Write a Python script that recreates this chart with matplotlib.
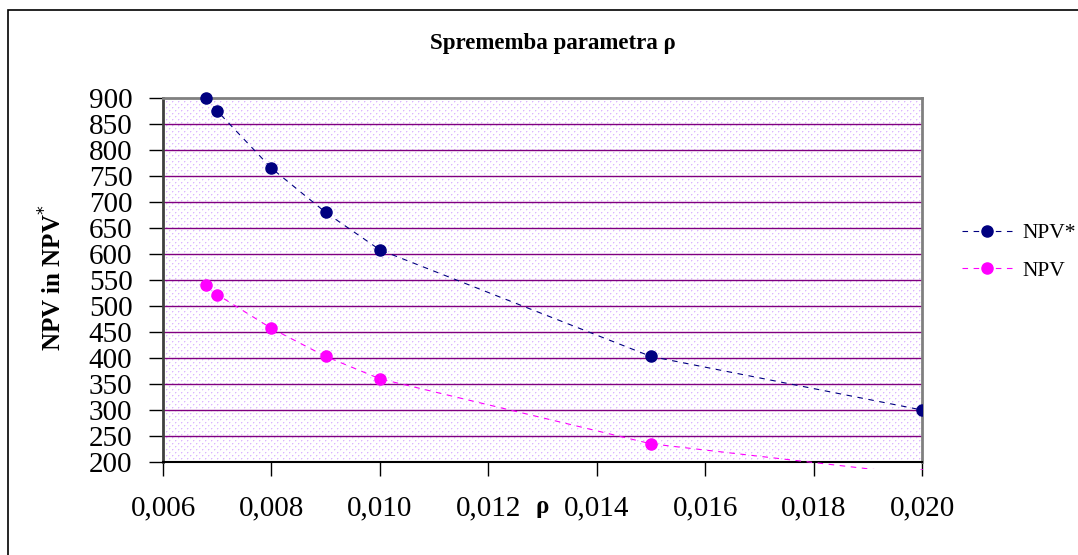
import numpy as np
import matplotlib
matplotlib.use("Agg")
import matplotlib.pyplot as plt
from matplotlib.patches import Rectangle
from matplotlib.transforms import Bbox, TransformedBbox
from matplotlib.ticker import FuncFormatter

# ---- data ----
rho = [0.0068, 0.007, 0.008, 0.009, 0.010, 0.015, 0.020]
npv_star = [900, 875, 765, 680, 608, 403, 300]
npv = [540, 522, 457, 403, 360, 235, 175]
x_ticks = [0.006, 0.008, 0.010, 0.012, 0.014, 0.016, 0.018, 0.020]
y_ticks = list(range(200, 901, 50))

plt.rcParams['font.family'] = ['Liberation Serif', 'DejaVu Serif']

W, H = 1078, 555
fig = plt.figure(figsize=(W / 100, H / 100), dpi=100)

# outer chart frame
fig.patches.append(Rectangle((8 / W, -0.05), 1.1, 1 - 10 / H + 0.05,
                             transform=fig.transFigure, fill=False,
                             edgecolor='black', linewidth=1.2))

left, right, top, bottom = 163, 922, 98, 462
ax = fig.add_axes([left / W, 1 - bottom / H, (right - left) / W, (bottom - top) / H])
ax.set_xlim(0.006, 0.020)
ax.set_ylim(200, 900)

# dotted plot-area fill
pw, ph = right - left, bottom - top
bg = np.ones((ph, pw, 3))
dot = np.array([0.86, 0.72, 1.0])
soft = np.array([0.95, 0.89, 1.0])
yy, xx = np.mgrid[0:ph, 0:pw]
mask_a = ((xx % 6) == 0) & ((yy % 6) == 0)
mask_b = ((xx % 6) == 3) & ((yy % 6) == 3)
mask_c = (((xx % 6) == 1) & ((yy % 6) == 0)) | (((xx % 6) == 0) & ((yy % 6) == 1)) | \
         (((xx % 6) == 4) & ((yy % 6) == 3)) | (((xx % 6) == 3) & ((yy % 6) == 4))
bg[mask_c] = soft
bg[mask_a | mask_b] = dot
ax.imshow(bg, extent=(0.006, 0.020, 200, 900), aspect='auto',
          interpolation='nearest', zorder=0)

# horizontal gridlines
for v in y_ticks[1:-1]:
    ax.axhline(v, color='#800080', linewidth=1.0, zorder=1)

clip = TransformedBbox(Bbox([[0, -0.02], [1, 1.05]]), ax.transAxes)
l1, = ax.plot(rho, npv_star, color='#000080', linestyle=(0, (5, 5)), linewidth=0.8,
              marker='o', markersize=8, markerfacecolor='#000080',
              markeredgecolor='#000080', label='NPV*', zorder=3)
l2, = ax.plot(rho, npv, color='#FF00FF', linestyle=(0, (5, 5)), linewidth=0.8,
              marker='o', markersize=8, markerfacecolor='#FF00FF',
              markeredgecolor='#FF00FF', label='NPV', zorder=3)
for ln in (l1, l2):
    ln.set_clip_box(clip)

ax.set_xticks(x_ticks)
ax.set_yticks(y_ticks)
ax.xaxis.set_major_formatter(FuncFormatter(lambda v, p: f"{v:.3f}".replace('.', ',')))
ax.yaxis.set_major_formatter(FuncFormatter(lambda v, p: f"{int(v)}"))
ax.tick_params(axis='x', direction='out', length=10, width=1, pad=14, labelsize=21,
               color='black')
ax.tick_params(axis='y', direction='out', length=10, width=1, pad=12, labelsize=21,
               color='black')

for s in ('top', 'right'):
    ax.spines[s].set_color('#808080')
    ax.spines[s].set_linewidth(2)
ax.spines['left'].set_color('#404040')
ax.spines['left'].set_linewidth(2)
ax.spines['bottom'].set_color('black')
ax.spines['bottom'].set_linewidth(1.5)

# titles and axis labels
fig.text(553 / W, 1 - 43 / H, 'Sprememba parametra ρ', ha='center', va='center',
         fontsize=16.5, fontweight='bold')
fig.text(542 / W, 1 - 506 / H, 'ρ', ha='center', va='center',
         fontsize=18, fontweight='bold')
fig.text(53 / W, 1 - 278 / H, r'NPV in NPV$^{*}$', ha='center', va='center',
         rotation=90, fontsize=18, fontweight='bold')

leg = fig.legend(handles=[l1, l2], loc='center left',
                 bbox_to_anchor=(962 / W, 1 - 252 / H), frameon=False,
                 fontsize=15.5, handlelength=2.3, handletextpad=0.5,
                 labelspacing=0.8, borderaxespad=0, borderpad=0)

fig.savefig('out.png', dpi=100)
